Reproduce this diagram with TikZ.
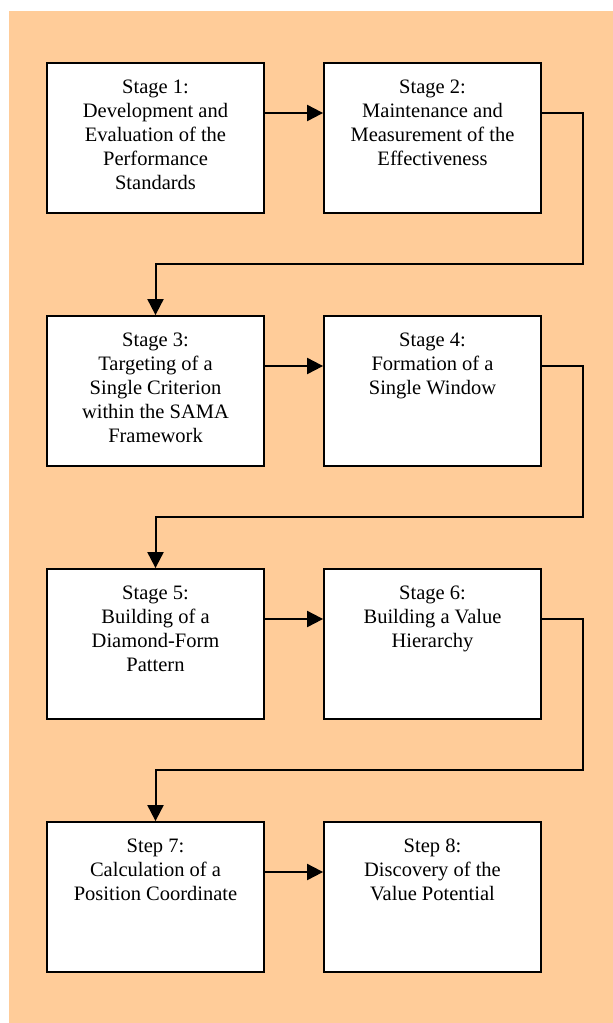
\documentclass[tikz,border=0pt]{standalone}
\usepackage{fontspec}
\setmainfont{Liberation Serif}
\usetikzlibrary{arrows.meta}
\definecolor{bgorange}{HTML}{FFCC99}
\tikzset{
  stagebox/.style={draw=black, fill=white, line width=1.8pt, minimum width=217pt, minimum height=150pt, inner sep=0pt},
  stagetext/.style={anchor=north, align=center, inner sep=0pt, font=\fontsize{20.5}{24}\selectfont},
  conn/.style={draw=black, line width=2pt, -{Triangle[length=16pt,width=16pt]}},
  plainconn/.style={draw=black, line width=2pt}
}
\begin{document}
\begin{tikzpicture}[x=1pt,y=-1pt]
\useasboundingbox (0,0) rectangle (613,1023);
\fill[bgorange] (9,11) rectangle (613,1023);
% boxes
\node[stagebox] (s1) at (155.5,138) {};
\node[stagebox] (s2) at (432.5,138) {};
\node[stagebox] (s3) at (155.5,391) {};
\node[stagebox] (s4) at (432.5,391) {};
\node[stagebox] (s5) at (155.5,644) {};
\node[stagebox] (s6) at (432.5,644) {};
\node[stagebox] (s7) at (155.5,897) {};
\node[stagebox] (s8) at (432.5,897) {};
% texts
\node[stagetext] (t1) at ([yshift=-14pt]s1.north) {\strut Stage 1:\\Development and\\Evaluation of the\\Performance\\Standards};
\node[stagetext] (t2) at ([yshift=-14pt]s2.north) {\strut Stage 2:\\Maintenance and\\Measurement of the\\Effectiveness};
\node[stagetext] (t3) at ([yshift=-14pt]s3.north) {\strut Stage 3:\\Targeting of a\\Single Criterion\\within the SAMA\\Framework};
\node[stagetext] (t4) at ([yshift=-14pt]s4.north) {\strut Stage 4:\\Formation of a\\Single Window};
\node[stagetext] (t5) at ([yshift=-14pt]s5.north) {\strut Stage 5:\\Building of a\\Diamond-Form\\Pattern};
\node[stagetext] (t6) at ([yshift=-14pt]s6.north) {\strut Stage 6:\\Building a Value\\Hierarchy};
\node[stagetext] (t7) at ([yshift=-14pt]s7.north) {\strut Step 7:\\Calculation of a\\Position Coordinate};
\node[stagetext] (t8) at ([yshift=-14pt]s8.north) {\strut Step 8:\\Discovery of the\\Value Potential};
% turning points
\coordinate (r1) at (583,264);
\coordinate (l1) at (155.5,264);
\coordinate (r2) at (583,517);
\coordinate (l2) at (155.5,517);
\coordinate (r3) at (583,770);
\coordinate (l3) at (155.5,770);
% connectors
\draw[conn] ([yshift=25pt]s1.east) -- ([yshift=25pt]s2.west);
\draw[conn] ([yshift=25pt]s3.east) -- ([yshift=25pt]s4.west);
\draw[conn] ([yshift=25pt]s5.east) -- ([yshift=25pt]s6.west);
\draw[conn] ([yshift=25pt]s7.east) -- ([yshift=25pt]s8.west);
\draw[conn] ([yshift=25pt]s2.east) -| (r1) -- (l1) -- (s3.north);
\draw[conn] ([yshift=25pt]s4.east) -| (r2) -- (l2) -- (s5.north);
\draw[conn] ([yshift=25pt]s6.east) -| (r3) -- (l3) -- (s7.north);
\end{tikzpicture}
\end{document}
